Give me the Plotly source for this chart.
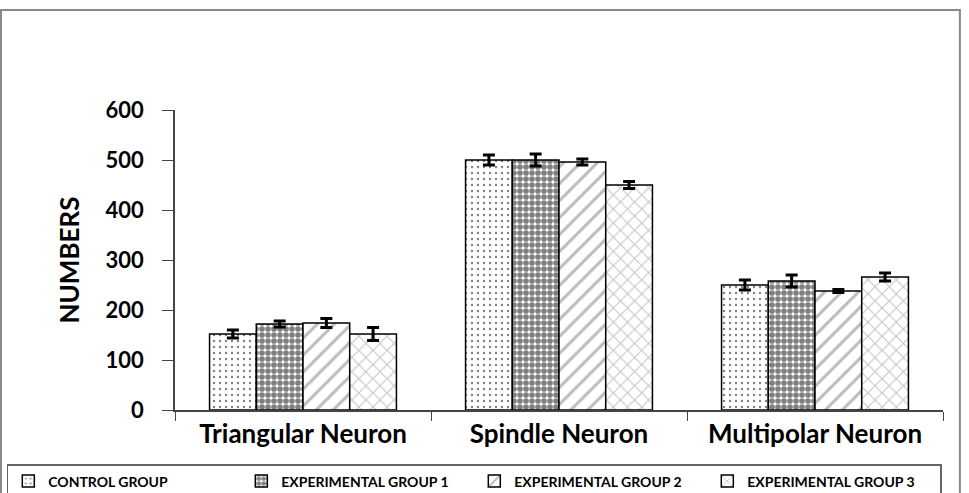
import plotly.graph_objects as go

categories = ["Triangular Neuron", "Spindle Neuron", "Multipolar Neuron"]
groups = ["CONTROL GROUP", "EXPERIMENTAL GROUP 1", "EXPERIMENTAL GROUP 2", "EXPERIMENTAL GROUP 3"]
control = [152, 500, 250]
control_err = [8, 10, 10]
exp1 = [172, 500, 258]
exp1_err = [6, 12, 12]
exp2 = [174, 496, 238]
exp2_err = [9, 6, 3]
exp3 = [152, 450, 266]
exp3_err = [13, 7, 8]
y_ticks = [0, 100, 200, 300, 400, 500, 600]

values = [control, exp1, exp2, exp3]
errors = [control_err, exp1_err, exp2_err, exp3_err]
patterns = [
    dict(shape=".", fgcolor="#000000", bgcolor="white", size=6, solidity=0.12),
    dict(shape=".", fgcolor="#000000", bgcolor="white", size=6, solidity=0.7),
    dict(shape="/", fgcolor="#777777", bgcolor="white", size=12, solidity=0.25),
    dict(shape="x", fgcolor="#888888", bgcolor="white", size=10, solidity=0.2),
]

fig = go.Figure()
for name, v, e, p in zip(groups, values, errors, patterns):
    fig.add_trace(go.Bar(
        x=categories, y=v, name=name,
        marker=dict(color="white", pattern=p, line=dict(color="black", width=1.5)),
        error_y=dict(type="data", array=e, color="black", thickness=3, width=6),
    ))

fig.update_layout(
    width=969, height=493,
    margin=dict(l=175, r=26, t=110, b=83, autoexpand=False),
    paper_bgcolor="white", plot_bgcolor="white",
    barmode="group", bargap=0.27, bargroupgap=0.0,
    font=dict(family="Lato", color="black"),
    showlegend=True,
    legend=dict(
        orientation="h", x=-0.219, y=-0.18, xanchor="left", yanchor="top",
        font=dict(family="Lato", size=14, color="black", weight="bold"),
        bordercolor="#666666", borderwidth=1.5, bgcolor="white",
        entrywidth=188, entrywidthmode="pixels",
        tracegroupgap=0,
    ),
    xaxis=dict(
        showline=True, linecolor="#444444", linewidth=1.5,
        ticks="outside", tickson="boundaries", ticklen=9, tickcolor="#444444",
        tickfont=dict(family="Lato", size=26, color="black", weight="bold"),
        showgrid=False,
    ),
    yaxis=dict(
        range=[0, 600], tickvals=y_ticks,
        showline=True, linecolor="#444444", linewidth=1.5,
        ticks="outside", ticklen=11, tickcolor="#444444",
        ticklabelstandoff=14,
        tickfont=dict(family="Lato", size=22, color="black", weight="bold"),
        showgrid=False, zeroline=False,
        title=dict(text="NUMBERS", font=dict(family="Lato", size=26, color="black", weight="bold"), standoff=18),
    ),
    shapes=[dict(
        type="rect", xref="paper", yref="paper",
        x0=-0.2266, x1=1.022, y0=-0.35, y1=1.333,
        line=dict(color="#888888", width=2), fillcolor="rgba(0,0,0,0)", layer="below",
    )],
)

fig.write_html("out.html")
